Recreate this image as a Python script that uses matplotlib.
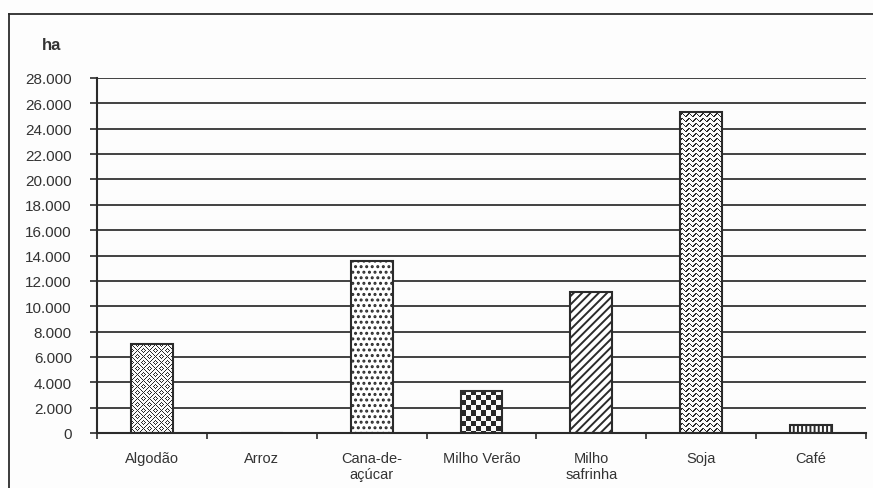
import matplotlib
matplotlib.use("Agg")
import matplotlib.pyplot as plt
from matplotlib.lines import Line2D
from matplotlib.ticker import FuncFormatter, FixedLocator
import numpy as np

# area plantada por cultura (ha)
culturas = ["Algodão", "Arroz", "Cana-de-\naçúcar", "Milho Verão", "Milho\nsafrinha", "Soja", "Café"]
area_ha = [7000, 0, 13600, 3350, 11100, 25300, 600]
padroes = ["trama", None, "...", "xadrez", "////", "ondas", "||||"]
yticks = list(range(0, 28001, 2000))

W, H, DPI = 873, 489, 100
INK = "#2b2b2b"

plt.rcParams['font.family'] = ['Liberation Sans', 'DejaVu Sans']
plt.rcParams['hatch.color'] = INK
plt.rcParams['hatch.linewidth'] = 1.4


def textura(kind, w, h):
    # mascara de pixels escuros para os padroes sem hatch nativo
    r, c = np.mgrid[0:h, 0:w]
    if kind == "xadrez":
        m = ((r // 5) + (c // 5)) % 2 == 0
    elif kind == "ondas":
        m = np.abs(((r + 1.4 * np.sin(2 * np.pi * c / 7)) % 5) - 2.5) < 0.8
    else:  # trama
        cel = ((r // 6) + (c // 6)) % 2
        m = np.where(cel == 0, (r - c) % 4 == 0, (r + c) % 4 == 0)
    return np.where(m, 0.16, 0.98)


fig = plt.figure(figsize=(W / DPI, H / DPI), dpi=DPI, facecolor="#fdfdfd")
ax = fig.add_axes([97 / W, 55 / H, 769 / W, 355 / H])
ax.set_facecolor("#fdfdfd")

x = np.arange(len(culturas))
ax.set_xlim(-0.5, len(culturas) - 0.5)
ax.set_ylim(0, 28000)

bars = ax.bar(x, area_ha, width=0.38, facecolor="white", edgecolor=INK, linewidth=1.4, zorder=2)
for b, p in zip(bars, padroes):
    if p is None or b.get_height() <= 0:
        continue
    if p in ("trama", "xadrez", "ondas"):
        x0, y0 = b.get_x(), 0
        x1, y1 = x0 + b.get_width(), b.get_height()
        (px0, py0), (px1, py1) = ax.transData.transform([(x0, y0), (x1, y1)])
        img = textura(p, max(int(round(px1 - px0)), 1), max(int(round(py1 - py0)), 1))
        im = ax.imshow(img, cmap="gray", vmin=0, vmax=1, extent=(x0, x1, y0, y1),
                       aspect="auto", interpolation="nearest", zorder=2.5)
        im.set_clip_path(b)
    else:
        b.set_hatch(p)

# contorno por cima das texturas
ax.bar(x, area_ha, width=0.38, fill=False, edgecolor=INK, linewidth=1.5, zorder=3)

ax.set_xlim(-0.5, len(culturas) - 0.5)
ax.set_ylim(0, 28000)

ax.set_yticks(yticks)
ax.yaxis.set_major_formatter(FuncFormatter(lambda v, _: f"{int(v):,}".replace(",", ".")))
ax.yaxis.grid(True, color="#333333", linewidth=1.3)
ax.set_axisbelow(True)

ax.set_xticks(x)
ax.set_xticklabels(culturas)
ax.xaxis.set_minor_locator(FixedLocator(np.arange(-0.5, len(culturas), 1.0)))
ax.tick_params(axis="x", which="major", length=0, pad=13, labelsize=10.5, labelcolor="#333333")
ax.tick_params(axis="x", which="minor", length=4, width=1.2, color=INK, direction="out")
ax.tick_params(axis="y", length=5, width=1.2, color=INK, pad=13, labelsize=11, labelcolor="#333333")

for s in ("top", "right"):
    ax.spines[s].set_visible(False)
for s in ("left", "bottom"):
    ax.spines[s].set_color(INK)
    ax.spines[s].set_linewidth(1.5)

fig.text(52 / W, 1 - 45 / H, "ha", ha="center", va="center", fontsize=12,
         fontweight="bold", color="#333333")

# moldura externa
fig.add_artist(Line2D([9 / W, 1.0], [1 - 15 / H, 1 - 15 / H], color=INK, linewidth=1.3))
fig.add_artist(Line2D([9 / W, 9 / W], [0.0, 1 - 15 / H], color=INK, linewidth=1.3))

fig.savefig("out.png", dpi=DPI, facecolor=fig.get_facecolor())
